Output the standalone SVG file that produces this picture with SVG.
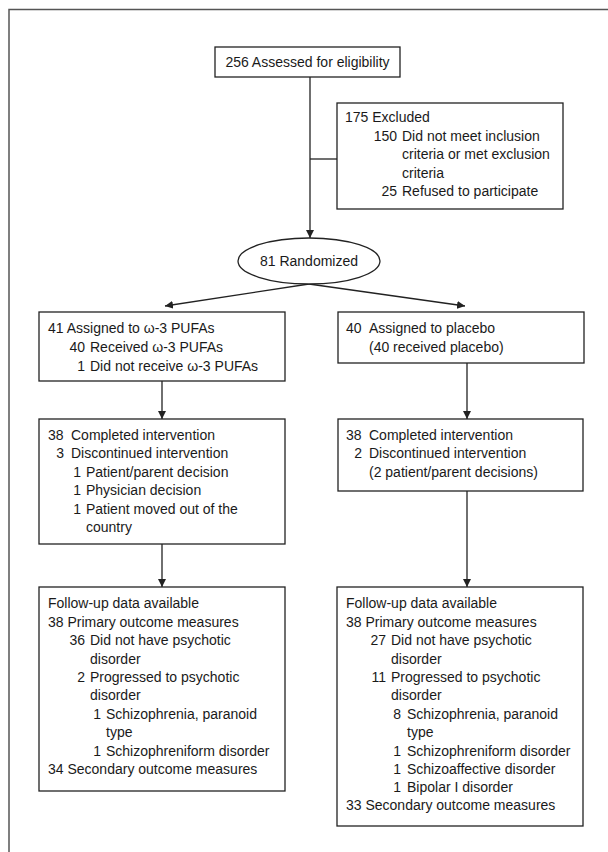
<svg xmlns="http://www.w3.org/2000/svg" width="608" height="852" viewBox="0 0 608 852">
<defs>
<style>
text{font-family:"Liberation Sans",Arial,sans-serif;font-size:14px;fill:#1a1a1a}
.e{text-anchor:end}
.m{text-anchor:middle}
.box{fill:#fff;stroke:#222;stroke-width:1.3}
.ln{fill:none;stroke:#222;stroke-width:1.3}
</style>
<marker id="ah" viewBox="0 0 10 10" refX="10" refY="5" markerWidth="8" markerHeight="8" markerUnits="userSpaceOnUse" orient="auto">
<path d="M0,0 L10,5 L0,10 z" fill="#222"/>
</marker>
</defs>
<rect x="0" y="0" width="608" height="852" fill="#fff"/>
<path d="M9,852 V9.5 H608" fill="none" stroke="#555" stroke-width="1.5"/>

<g id="connectors">
<line class="ln" x1="310" y1="77" x2="310" y2="238" marker-end="url(#ah)"/>
<line class="ln" x1="310" y1="159" x2="337" y2="159"/>
<line class="ln" x1="309" y1="284" x2="165" y2="306" marker-end="url(#ah)"/>
<line class="ln" x1="309" y1="284" x2="465" y2="306" marker-end="url(#ah)"/>
<line class="ln" x1="162" y1="381" x2="162" y2="419" marker-end="url(#ah)"/>
<line class="ln" x1="467" y1="363" x2="467" y2="419" marker-end="url(#ah)"/>
<line class="ln" x1="162" y1="544" x2="162" y2="587" marker-end="url(#ah)"/>
<line class="ln" x1="467" y1="491" x2="467" y2="587" marker-end="url(#ah)"/>
</g>

<g id="assessed">
<rect class="box" x="215" y="47" width="185" height="30"/>
<text class="m" x="307.5" y="67">256 Assessed for eligibility</text>
</g>

<g id="excluded">
<rect class="box" x="337" y="103" width="226" height="106"/>
<text x="345" y="122">175 Excluded</text>
<text class="e" x="397" y="141">150</text>
<text x="402" y="141">Did not meet inclusion</text>
<text x="402" y="159">criteria or met exclusion</text>
<text x="402" y="178">criteria</text>
<text class="e" x="397" y="196">25</text>
<text x="402" y="196">Refused to participate</text>
</g>

<g id="randomized">
<ellipse class="box" cx="309" cy="261" rx="71" ry="23"/>
<text class="m" x="309" y="266">81 Randomized</text>
</g>

<g id="omega-assigned">
<rect class="box" x="39" y="312" width="246" height="69"/>
<text x="48" y="333">41 Assigned to ω-3 PUFAs</text>
<text class="e" x="85" y="352">40</text>
<text x="90" y="352">Received ω-3 PUFAs</text>
<text class="e" x="85" y="371">1</text>
<text x="90" y="371">Did not receive ω-3 PUFAs</text>
</g>

<g id="placebo-assigned">
<rect class="box" x="338" y="312" width="246" height="51"/>
<text x="346" y="333">40</text>
<text x="369" y="333">Assigned to placebo</text>
<text x="369" y="352">(40 received placebo)</text>
</g>

<g id="omega-completed">
<rect class="box" x="39" y="419" width="246" height="125"/>
<text x="48" y="440">38</text>
<text x="71" y="440">Completed intervention</text>
<text class="e" x="64" y="458">3</text>
<text x="71" y="458">Discontinued intervention</text>
<text class="e" x="81" y="477">1</text>
<text x="86" y="477">Patient/parent decision</text>
<text class="e" x="81" y="495">1</text>
<text x="86" y="495">Physician decision</text>
<text class="e" x="81" y="514">1</text>
<text x="86" y="514">Patient moved out of the</text>
<text x="86" y="532">country</text>
</g>

<g id="placebo-completed">
<rect class="box" x="338" y="419" width="245" height="72"/>
<text x="346" y="440">38</text>
<text x="369" y="440">Completed intervention</text>
<text class="e" x="362" y="458">2</text>
<text x="369" y="458">Discontinued intervention</text>
<text x="369" y="477">(2 patient/parent decisions)</text>
</g>

<g id="omega-followup">
<rect class="box" x="39" y="587" width="246" height="204"/>
<text x="48" y="608">Follow-up data available</text>
<text x="48" y="627">38 Primary outcome measures</text>
<text class="e" x="85" y="645">36</text>
<text x="90" y="645">Did not have psychotic</text>
<text x="90" y="664">disorder</text>
<text class="e" x="85" y="682">2</text>
<text x="90" y="682">Progressed to psychotic</text>
<text x="90" y="700">disorder</text>
<text class="e" x="101" y="719">1</text>
<text x="106" y="719">Schizophrenia, paranoid</text>
<text x="106" y="737">type</text>
<text class="e" x="101" y="756">1</text>
<text x="106" y="756">Schizophreniform disorder</text>
<text x="48" y="774">34 Secondary outcome measures</text>
</g>

<g id="placebo-followup">
<rect class="box" x="337" y="587" width="246" height="239"/>
<text x="346" y="608">Follow-up data available</text>
<text x="346" y="627">38 Primary outcome measures</text>
<text class="e" x="386" y="645">27</text>
<text x="391" y="645">Did not have psychotic</text>
<text x="391" y="664">disorder</text>
<text class="e" x="386" y="682">11</text>
<text x="391" y="682">Progressed to psychotic</text>
<text x="391" y="700">disorder</text>
<text class="e" x="401" y="719">8</text>
<text x="407" y="719">Schizophrenia, paranoid</text>
<text x="407" y="737">type</text>
<text class="e" x="401" y="756">1</text>
<text x="407" y="756">Schizophreniform disorder</text>
<text class="e" x="401" y="774">1</text>
<text x="407" y="774">Schizoaffective disorder</text>
<text class="e" x="401" y="792">1</text>
<text x="407" y="792">Bipolar I disorder</text>
<text x="346" y="810">33 Secondary outcome measures</text>
</g>
</svg>
